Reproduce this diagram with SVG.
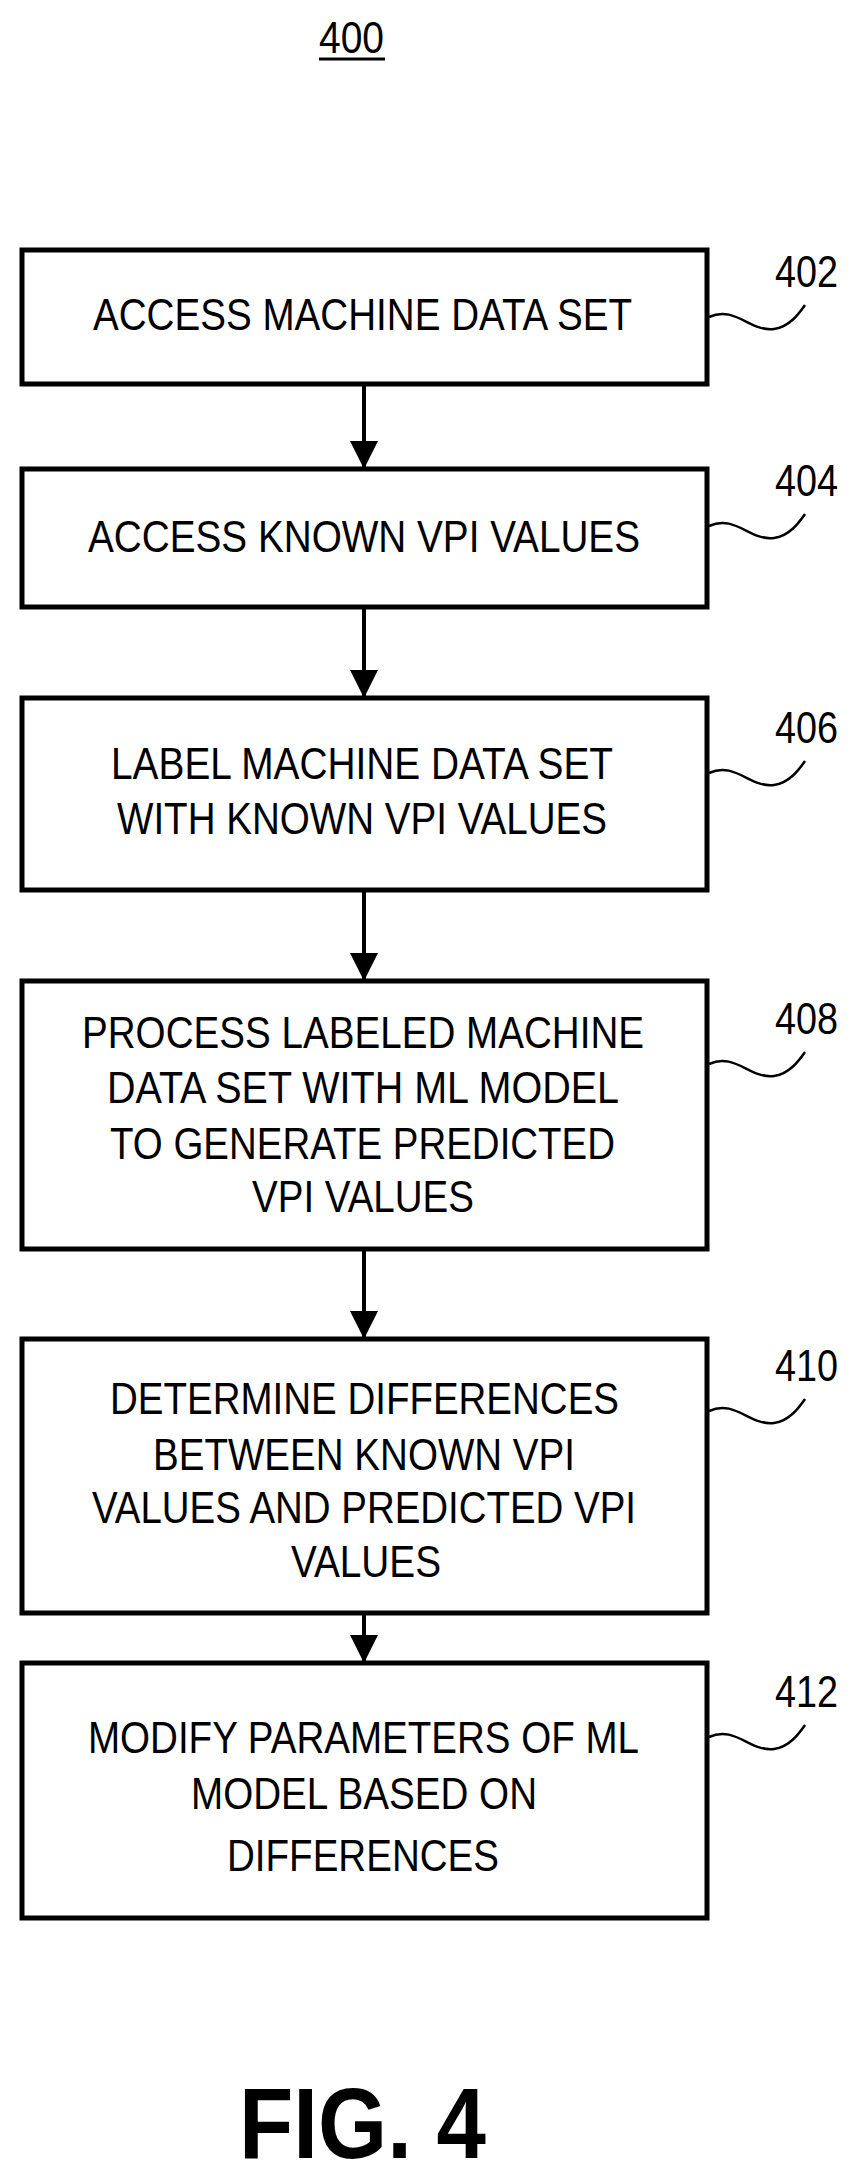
<svg xmlns="http://www.w3.org/2000/svg" width="854" height="2173" viewBox="0 0 854 2173">
<style>
.box{fill:#fff;stroke:#000;stroke-width:5}
.t{font-family:"Liberation Sans",Arial,sans-serif;font-size:44px;fill:#000}
.lbl{font-family:"Liberation Sans",Arial,sans-serif;font-size:44px;fill:#000}
.sq{fill:none;stroke:#000;stroke-width:2.5}
.c{stroke:#000;stroke-width:4;fill:none}
</style>
<defs><marker id="ah" markerWidth="10" markerHeight="10" refX="9" refY="5" orient="auto" markerUnits="userSpaceOnUse" viewBox="0 0 10 10"><path d="M0,0 L10,5 L0,10 Z"/></marker>
<marker id="a" viewBox="0 0 28 28" refX="28" refY="14" markerWidth="28" markerHeight="28" markerUnits="userSpaceOnUse" orient="auto"><path d="M0,0 L28,14 L0,28 Z" fill="#000"/></marker></defs>
<text class="lbl" x="319" y="53" textLength="65" lengthAdjust="spacingAndGlyphs" font-size="40">400</text>
<line x1="319" y1="59" x2="385" y2="59" stroke="#000" stroke-width="3"/>
<g id="connectors">
<line class="c" x1="364" y1="384" x2="364" y2="469" marker-end="url(#a)"/>
<line class="c" x1="364" y1="607" x2="364" y2="698" marker-end="url(#a)"/>
<line class="c" x1="364" y1="890" x2="364" y2="981" marker-end="url(#a)"/>
<line class="c" x1="364" y1="1249" x2="364" y2="1339" marker-end="url(#a)"/>
<line class="c" x1="364" y1="1613" x2="364" y2="1663" marker-end="url(#a)"/>
</g>
<g id="n402"><rect class="box" x="22" y="250" width="685" height="134"/>
<text class="t" x="93" y="330" textLength="539" lengthAdjust="spacingAndGlyphs">ACCESS MACHINE DATA SET</text>
<text class="lbl" x="775" y="287" textLength="63" lengthAdjust="spacingAndGlyphs">402</text>
<path class="sq" d="M709,317 C735,305 750,332 774,329 C790,327 800,312 805,305"/></g>
<g id="n404"><rect class="box" x="22" y="469" width="685" height="138"/>
<text class="t" x="88" y="552" textLength="552" lengthAdjust="spacingAndGlyphs">ACCESS KNOWN VPI VALUES</text>
<text class="lbl" x="775" y="496" textLength="63" lengthAdjust="spacingAndGlyphs">404</text>
<path class="sq" d="M709,526 C735,514 750,541 774,538 C790,536 800,521 805,514"/></g>
<g id="n406"><rect class="box" x="22" y="698" width="685" height="192"/>
<text class="t" x="111" y="779" textLength="502" lengthAdjust="spacingAndGlyphs">LABEL MACHINE DATA SET</text>
<text class="t" x="117" y="834" textLength="490" lengthAdjust="spacingAndGlyphs">WITH KNOWN VPI VALUES</text>
<text class="lbl" x="775" y="743" textLength="63" lengthAdjust="spacingAndGlyphs">406</text>
<path class="sq" d="M709,773 C735,761 750,788 774,785 C790,783 800,768 805,761"/></g>
<g id="n408"><rect class="box" x="22" y="981" width="685" height="268"/>
<text class="t" x="82" y="1048" textLength="562" lengthAdjust="spacingAndGlyphs">PROCESS LABELED MACHINE</text>
<text class="t" x="107" y="1103" textLength="512" lengthAdjust="spacingAndGlyphs">DATA SET WITH ML MODEL</text>
<text class="t" x="110" y="1159" textLength="505" lengthAdjust="spacingAndGlyphs">TO GENERATE PREDICTED</text>
<text class="t" x="252" y="1212" textLength="222" lengthAdjust="spacingAndGlyphs">VPI VALUES</text>
<text class="lbl" x="775" y="1034" textLength="63" lengthAdjust="spacingAndGlyphs">408</text>
<path class="sq" d="M709,1064 C735,1052 750,1079 774,1076 C790,1074 800,1059 805,1052"/></g>
<g id="n410"><rect class="box" x="22" y="1339" width="685" height="274"/>
<text class="t" x="110" y="1414" textLength="509" lengthAdjust="spacingAndGlyphs">DETERMINE DIFFERENCES</text>
<text class="t" x="153" y="1470" textLength="422" lengthAdjust="spacingAndGlyphs">BETWEEN KNOWN VPI</text>
<text class="t" x="92" y="1523" textLength="544" lengthAdjust="spacingAndGlyphs">VALUES AND PREDICTED VPI</text>
<text class="t" x="291" y="1577" textLength="150" lengthAdjust="spacingAndGlyphs">VALUES</text>
<text class="lbl" x="775" y="1381" textLength="63" lengthAdjust="spacingAndGlyphs">410</text>
<path class="sq" d="M709,1411 C735,1399 750,1426 774,1423 C790,1421 800,1406 805,1399"/></g>
<g id="n412"><rect class="box" x="22" y="1663" width="685" height="255"/>
<text class="t" x="88" y="1753" textLength="551" lengthAdjust="spacingAndGlyphs">MODIFY PARAMETERS OF ML</text>
<text class="t" x="191" y="1809" textLength="346" lengthAdjust="spacingAndGlyphs">MODEL BASED ON</text>
<text class="t" x="227" y="1871" textLength="272" lengthAdjust="spacingAndGlyphs">DIFFERENCES</text>
<text class="lbl" x="775" y="1707" textLength="63" lengthAdjust="spacingAndGlyphs">412</text>
<path class="sq" d="M709,1737 C735,1725 750,1752 774,1749 C790,1747 800,1732 805,1725"/></g>
<text x="239" y="2158" font-family="Liberation Sans,Arial,sans-serif" font-weight="bold" font-size="100" textLength="247" lengthAdjust="spacingAndGlyphs">FIG. 4</text>
</svg>
